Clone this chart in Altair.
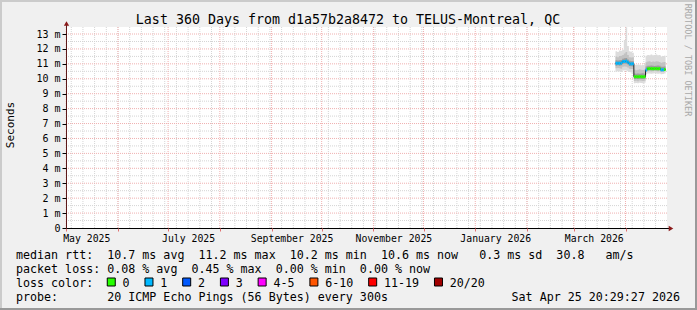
import altair as alt
import pandas as pd

FONT = "DejaVu Sans Mono"
NB = "\u00a0"

# plot area (pixels) and surrounding room
W, H = 601, 201
PAD_L, PAD_T, PAD_R, PAD_B = 66, 27, 30, 82

# ---------------- texts ----------------
title_text = "Last 360 Days from d1a57b2a8472 to TELUS-Montreal, QC"
y_title = "Seconds"
watermark = "RRDTOOL / TOBI OETIKER"
row_median = "median rtt:  10.7 ms avg  11.2 ms max  10.2 ms min  10.6 ms now   0.3 ms sd  30.8   am/s"
row_loss = "packet loss: 0.08 % avg  0.45 % max  0.00 % min  0.00 % now"
row_color = "loss color:"
row_probe = "probe:       20 ICMP Echo Pings (56 Bytes) every 300s"
stamp = "Sat Apr 25 20:29:27 2026"

# ---------------- axis ranges / ticks ----------------
range_start = dict(year=2025, month=4, date=30, hours=20, minutes=29, seconds=27)
range_end = dict(year=2026, month=4, date=25, hours=20, minutes=29, seconds=27)
y_max = 13.47
y_major = [0, 1, 2, 3, 4, 5, 6, 7, 8, 9, 10, 11, 12, 13]
y_minor = [0.5, 1.5, 2.5, 3.5, 4.5, 5.5, 6.5, 7.5, 8.5, 9.5, 10.5, 11.5, 12.5]
months = [(2025, 5), (2025, 6), (2025, 7), (2025, 8), (2025, 9), (2025, 10),
          (2025, 11), (2025, 12), (2026, 1), (2026, 2), (2026, 3), (2026, 4)]

# ---------------- loss legend ----------------
loss_labels = ["0", "1", "2", "3", "4-5", "6-10", "11-19", "20/20"]
loss_colors = ["#26ff00", "#00b8ff", "#0059ff", "#7e00ff", "#ff00ff", "#ff5500", "#ff0000", "#a10000"]

# ---------------- measured data (daily) ----------------
days = ["2026-03-26", "2026-03-27", "2026-03-28", "2026-03-29", "2026-03-30", "2026-03-31",
        "2026-04-01", "2026-04-02", "2026-04-03", "2026-04-04", "2026-04-05", "2026-04-06",
        "2026-04-07", "2026-04-08", "2026-04-09", "2026-04-10", "2026-04-11", "2026-04-12",
        "2026-04-13", "2026-04-14", "2026-04-15", "2026-04-16", "2026-04-17", "2026-04-18",
        "2026-04-19", "2026-04-20", "2026-04-21", "2026-04-22", "2026-04-23", "2026-04-24"]
data_end = "2026-04-25"

median_ms = [11.04, 11.04, 11.04, 11.05, 11.16, 11.16, 11.18, 11.10, 11.00, 11.00, 11.00,
             10.14, 10.14, 10.14, 10.14, 10.14, 10.14, 10.14,
             10.59, 10.68, 10.68, 10.68, 10.68, 10.68, 10.68, 10.68, 10.68, 10.60, 10.60, 10.62]
loss_pings = [1, 1, 1, 1, 1, 1, 1, 1, 1, 1, 1,
              0, 0, 0, 0, 0, 0, 0,
              1, 0, 0, 0, 0, 0, 0, 0, 0, 1, 1, 0]
ping_min = [10.45, 10.50, 10.48, 10.46, 10.55, 10.58, 10.56, 10.50, 10.45, 10.42, 10.40,
            9.70, 9.72, 9.70, 9.74, 9.71, 9.70, 9.73,
            10.30, 10.35, 10.36, 10.34, 10.35, 10.37, 10.35, 10.34, 10.36, 10.30, 10.32, 10.35]
ping_p10 = [10.70, 10.72, 10.70, 10.68, 10.80, 10.82, 10.80, 10.75, 10.68, 10.66, 10.65,
            9.85, 9.86, 9.84, 9.88, 9.86, 9.85, 9.87,
            10.45, 10.50, 10.51, 10.49, 10.50, 10.52, 10.50, 10.49, 10.51, 10.45, 10.46, 10.48]
ping_p25 = [10.88, 10.90, 10.88, 10.90, 11.00, 11.02, 11.00, 10.95, 10.85, 10.84, 10.82,
            9.98, 10.00, 9.98, 10.01, 9.99, 9.98, 10.00,
            10.52, 10.58, 10.59, 10.57, 10.58, 10.60, 10.58, 10.57, 10.59, 10.52, 10.53, 10.55]
ping_p75 = [11.25, 11.22, 11.24, 11.26, 11.35, 11.38, 11.40, 11.30, 11.20, 11.18, 11.18,
            10.35, 10.33, 10.36, 10.34, 10.35, 10.37, 10.34,
            10.82, 10.88, 10.87, 10.89, 10.88, 10.86, 10.88, 10.89, 10.87, 10.80, 10.81, 10.83]
ping_p90 = [11.50, 11.45, 11.52, 11.55, 11.60, 11.70, 11.80, 11.60, 11.45, 11.42, 11.45,
            10.62, 10.58, 10.60, 10.64, 10.60, 10.59, 10.62,
            11.10, 11.15, 11.18, 11.12, 11.16, 11.14, 11.17, 11.15, 11.13, 11.08, 11.10, 11.12]
ping_max = [11.85, 11.80, 11.90, 11.88, 11.95, 12.60, 13.45, 12.20, 11.85, 11.80, 11.75,
            10.95, 10.92, 10.96, 10.94, 10.90, 10.93, 10.97,
            11.55, 11.60, 11.58, 11.62, 11.57, 11.60, 11.63, 11.58, 11.60, 11.50, 11.52, 11.55]


# ---------------- helpers ----------------
def nb(s):
    return s.replace(" ", NB)


def iso(d):
    return d + "T00:00:00"


def bucket(n):
    if n <= 3:
        return loss_labels[n]
    if n <= 5:
        return "4-5"
    if n <= 10:
        return "6-10"
    if n <= 19:
        return "11-19"
    return "20/20"


x_scale = alt.Scale(domain=[alt.DateTime(**range_start), alt.DateTime(**range_end)], nice=False)
y_scale = alt.Scale(domain=[0, y_max], nice=False, zero=False)
one = pd.DataFrame({"k": [0]})

# ---------------- tables ----------------
t_ext = [iso(d) for d in days] + [iso(data_end)]
smoke_df = pd.DataFrame({
    "t": t_ext,
    "mn": ping_min + [ping_min[-1]], "p10": ping_p10 + [ping_p10[-1]],
    "p25": ping_p25 + [ping_p25[-1]], "p75": ping_p75 + [ping_p75[-1]],
    "p90": ping_p90 + [ping_p90[-1]], "mx": ping_max + [ping_max[-1]],
    "med": median_ms + [median_ms[-1]],
})
seg_df = pd.DataFrame({
    "t": [iso(d) for d in days],
    "t2": [iso(d) for d in days[1:]] + [iso(data_end)],
    "med": median_ms,
    "bucket": [bucket(n) for n in loss_pings],
})
week_df = pd.DataFrame({"t": pd.date_range("2025-05-04", "2026-04-19", freq="7D").strftime("%Y-%m-%dT00:00:00")})
month_df = pd.DataFrame({"t": [f"{y}-{m:02d}-01T00:00:00" for y, m in months]})
ymin_df = pd.DataFrame({"v": y_minor})
ymaj_df = pd.DataFrame({"v": y_major[1:]})

# ---------------- axes ----------------
x_axis = alt.Axis(
    values=[alt.DateTime(year=y, month=m, date=1) for y, m in months],
    labelExpr="month(datum.value) % 2 == 0 ? timeFormat(datum.value, '%B %Y') : ''",
    labelOffset=20, labelFont=FONT, labelFontSize=9.8, labelColor="#000000",
    labelPadding=2, tickSize=3, tickColor="#e07070", domain=False, grid=False,
    labelOverlap=False, labelFlush=False, labelBound=False, title=None, zindex=1,
)
y_axis = alt.Axis(
    values=y_major,
    labelExpr=f"datum.value == 0 ? '0{NB}{NB}' : datum.value + '{NB}m'",
    labelFont=FONT, labelFontSize=10, labelColor="#000000", labelPadding=2,
    tickSize=4, tickColor="#000000", domain=False, grid=False, title=None,
    zindex=1, labelOverlap=False,
)

# ---------------- grid ----------------
MINOR = "#d4d4d4"
MAJOR = "#f0b0b0"
grid_x_minor = alt.Chart(week_df).mark_rule(color=MINOR, strokeDash=[1, 1], strokeWidth=1).encode(
    x=alt.X("t:T", scale=x_scale, axis=None), y=alt.value(0), y2=alt.value(H))
grid_y_minor = alt.Chart(ymin_df).mark_rule(color=MINOR, strokeDash=[1, 1], strokeWidth=1).encode(
    y=alt.Y("v:Q", scale=y_scale, axis=None), x=alt.value(0), x2=alt.value(W))
grid_x_major = alt.Chart(month_df).mark_rule(color=MAJOR, strokeDash=[1, 1], strokeWidth=1).encode(
    x=alt.X("t:T", scale=x_scale, axis=None), y=alt.value(0), y2=alt.value(H))
grid_y_major = alt.Chart(ymaj_df).mark_rule(color=MAJOR, strokeDash=[1, 1], strokeWidth=1).encode(
    y=alt.Y("v:Q", scale=y_scale, axis=None), x=alt.value(0), x2=alt.value(W))

# ---------------- smoke + median ----------------
smoke_outer = alt.Chart(smoke_df).mark_area(interpolate="step-after", color="#dcdcdc").encode(
    x=alt.X("t:T", scale=x_scale, axis=x_axis),
    y=alt.Y("mn:Q", scale=y_scale, axis=y_axis), y2="mx:Q")
smoke_mid = alt.Chart(smoke_df).mark_area(interpolate="step-after", color="#c2c2c2").encode(
    x=alt.X("t:T", scale=x_scale, axis=None),
    y=alt.Y("p10:Q", scale=y_scale, axis=None), y2="p90:Q")
smoke_inner = alt.Chart(smoke_df).mark_area(interpolate="step-after", color="#9c9c9c").encode(
    x=alt.X("t:T", scale=x_scale, axis=None),
    y=alt.Y("p25:Q", scale=y_scale, axis=None), y2="p75:Q")
median_line = alt.Chart(smoke_df).mark_line(interpolate="step-after", color="#202020", strokeWidth=1).encode(
    x=alt.X("t:T", scale=x_scale, axis=None),
    y=alt.Y("med:Q", scale=y_scale, axis=None))
median_col = alt.Chart(seg_df).mark_rule(strokeWidth=3).encode(
    x=alt.X("t:T", scale=x_scale, axis=None), x2="t2:T",
    y=alt.Y("med:Q", scale=y_scale, axis=None),
    color=alt.Color("bucket:N", scale=alt.Scale(domain=loss_labels, range=loss_colors), legend=None))

# ---------------- axis lines & arrows ----------------
x_line = alt.Chart(one).mark_rule(color="#000000", strokeWidth=1).encode(
    x=alt.value(-1), x2=alt.value(603), y=alt.value(H + 0.5))
y_line = alt.Chart(one).mark_rule(color="#5e1a1a", strokeWidth=1).encode(
    x=alt.value(0.5), y=alt.value(H + 3), y2=alt.value(-2))
y_arrow = alt.Chart(one).mark_point(shape="triangle-up", filled=True, size=28, color="#8b1a1a", opacity=1).encode(
    x=alt.value(0.5), y=alt.value(-3.5))
x_arrow = alt.Chart(one).mark_point(shape="triangle-right", filled=True, size=28, color="#8b1a1a", opacity=1).encode(
    x=alt.value(605), y=alt.value(H + 0.5))


# ---------------- frame ----------------
def frame(x, x2, y, y2, color):
    return alt.Chart(one).mark_rect(color=color).encode(
        x=alt.value(x), x2=alt.value(x2), y=alt.value(y), y2=alt.value(y2))


frames = [
    frame(-PAD_L, W + PAD_R, -PAD_T, -PAD_T + 2, "#cbcbcb"),
    frame(-PAD_L, -PAD_L + 2, -PAD_T, H + PAD_B, "#cbcbcb"),
    frame(W + PAD_R - 2, W + PAD_R, -PAD_T, H + PAD_B, "#999999"),
    frame(-PAD_L, W + PAD_R, H + PAD_B - 2, H + PAD_B, "#999999"),
]


# ---------------- texts ----------------
def label(text, x, y, size, align="left", baseline="alphabetic", angle=0, color="#000000"):
    return alt.Chart(one).mark_text(
        text=nb(text), font=FONT, fontSize=size, align=align, baseline=baseline,
        angle=angle, color=color).encode(x=alt.value(x), y=alt.value(y))


LX = 16 - PAD_L
LS = 11.66
CW = 7.02
rows_y = [231.5, 245.5, 259.5, 273.5]
texts = [
    label(title_text, 348 - PAD_L, 24 - PAD_T, 13.3, align="center"),
    label(y_title, 10.5 - PAD_L, 125 - PAD_T, 11, align="center", baseline="middle", angle=270),
    label(watermark, 688 - PAD_L, 60 - PAD_T, 8.5, align="center", baseline="middle", angle=90, color="#a8a8a8"),
    label(row_median, LX, rows_y[0], LS),
    label(row_loss, LX, rows_y[1], LS),
    label(row_color, LX, rows_y[2], LS),
    label(row_probe, LX, rows_y[3], LS),
    label(stamp, 680 - PAD_L, rows_y[3], LS, align="right"),
]

# loss colour legend (layout computed from label lengths)
leg_rows = []
pos = LX + 13 * CW
for lab, col in zip(loss_labels, loss_colors):
    leg_rows.append({"label": lab, "color": col, "bx": pos, "bx2": pos + 8, "tx": pos + 15.3})
    pos = pos + 15.3 + len(lab) * CW + 15.4
leg_df = pd.DataFrame(leg_rows)
leg_boxes = alt.Chart(leg_df).mark_rect(stroke="#000000", strokeWidth=1).encode(
    x=alt.X("bx:Q", scale=None, axis=None), x2="bx2:Q",
    y=alt.value(251), y2=alt.value(259),
    fill=alt.Fill("color:N", scale=None, legend=None))
leg_text = alt.Chart(leg_df).mark_text(font=FONT, fontSize=LS, align="left", baseline="alphabetic", color="#000000").encode(
    x=alt.X("tx:Q", scale=None, axis=None), y=alt.value(rows_y[2]), text="label:N")

chart = alt.layer(
    *frames,
    grid_x_minor, grid_y_minor, grid_x_major, grid_y_major,
    smoke_outer, smoke_mid, smoke_inner, median_line, median_col,
    x_line, y_line, y_arrow, x_arrow,
    *texts, leg_boxes, leg_text,
).resolve_scale(
    x="independent", y="independent", color="independent", fill="independent"
).properties(
    width=W, height=H,
    padding={"left": PAD_L, "top": PAD_T, "right": PAD_R, "bottom": PAD_B},
    autosize=alt.AutoSizeParams(type="none"),
    background="#f0f0f0",
).configure_view(stroke=None, fill="#ffffff")

chart.save("out.html", embed_options={"renderer": "svg", "actions": False})
